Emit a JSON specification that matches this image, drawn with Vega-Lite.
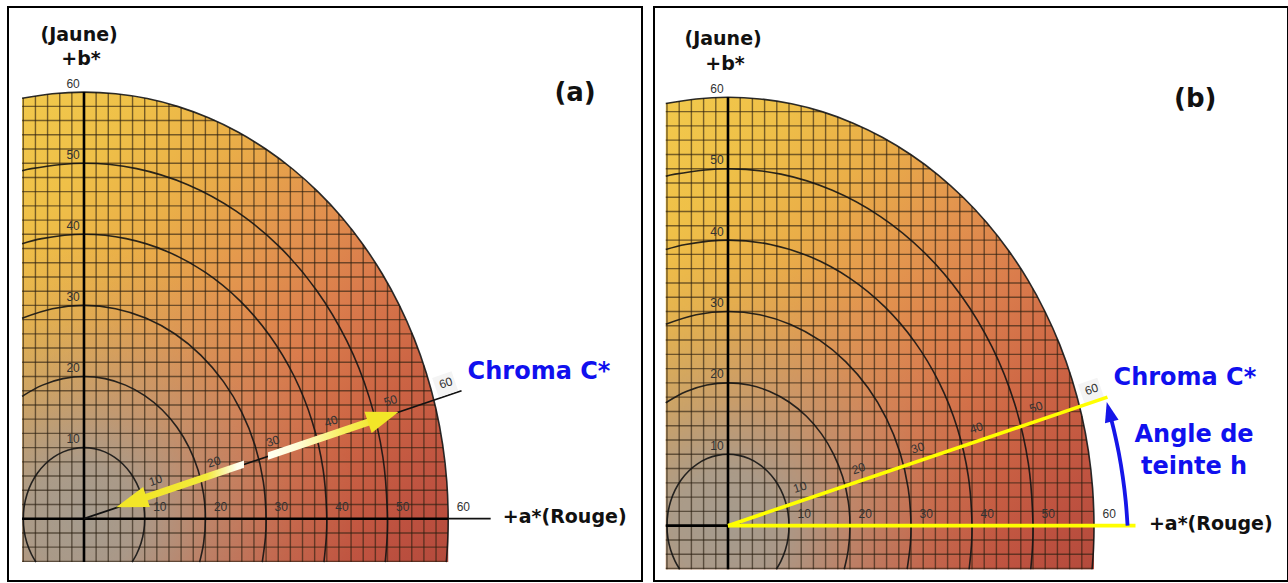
{
  "$schema": "https://vega.github.io/schema/vega-lite/v6.json",
  "background": "white",
  "padding": {"left": 7, "top": 6, "right": 0, "bottom": 0},
  "spacing": 10,
  "config": {"view": {"stroke": "#000000", "strokeWidth": 2}, "axis": {"disable": true}},
  "datasets": {
    "grid": [{"k":-10,"f":59.16},{"k":-8,"f":59.46},{"k":-6,"f":59.7},{"k":-4,"f":59.87},{"k":-2,"f":59.97},{"k":0,"f":60},{"k":2,"f":59.97},{"k":4,"f":59.87},{"k":6,"f":59.7},{"k":8,"f":59.46},{"k":10,"f":59.16},{"k":12,"f":58.79},{"k":14,"f":58.34},{"k":16,"f":57.83},{"k":18,"f":57.24},{"k":20,"f":56.57},{"k":22,"f":55.82},{"k":24,"f":54.99},{"k":26,"f":54.07},{"k":28,"f":53.07},{"k":30,"f":51.96},{"k":32,"f":50.75},{"k":34,"f":49.44},{"k":36,"f":48},{"k":38,"f":46.43},{"k":40,"f":44.72},{"k":42,"f":42.85},{"k":44,"f":40.79},{"k":46,"f":38.52},{"k":48,"f":36},{"k":50,"f":33.17},{"k":52,"f":29.93},{"k":54,"f":26.15},{"k":56,"f":21.54},{"k":58,"f":15.36}],
    "arcs": [
      {"r":10,"t":-37.6,"a":7.92,"b":-6.1},{"r":10,"t":-30,"a":8.66,"b":-5},{"r":10,"t":-20,"a":9.4,"b":-3.42},{"r":10,"t":-10,"a":9.85,"b":-1.74},{"r":10,"t":0,"a":10,"b":0},{"r":10,"t":10,"a":9.85,"b":1.74},{"r":10,"t":20,"a":9.4,"b":3.42},{"r":10,"t":30,"a":8.66,"b":5},{"r":10,"t":40,"a":7.66,"b":6.43},{"r":10,"t":50,"a":6.43,"b":7.66},{"r":10,"t":60,"a":5,"b":8.66},{"r":10,"t":70,"a":3.42,"b":9.4},{"r":10,"t":80,"a":1.74,"b":9.85},{"r":10,"t":90,"a":0,"b":10},{"r":10,"t":100,"a":-1.74,"b":9.85},{"r":10,"t":110,"a":-3.42,"b":9.4},{"r":10,"t":120,"a":-5,"b":8.66},{"r":10,"t":130,"a":-6.43,"b":7.66},{"r":10,"t":140,"a":-7.66,"b":6.43},{"r":10,"t":150,"a":-8.66,"b":5},{"r":10,"t":160,"a":-9.4,"b":3.42},{"r":10,"t":170,"a":-9.85,"b":1.74},{"r":10,"t":180,"a":-10,"b":0},{"r":10,"t":190,"a":-9.85,"b":-1.74},{"r":10,"t":200,"a":-9.4,"b":-3.42},{"r":10,"t":210,"a":-8.66,"b":-5},{"r":10,"t":217.6,"a":-7.92,"b":-6.1},
      {"r":20,"t":-17.8,"a":19.05,"b":-6.1},{"r":20,"t":-10,"a":19.7,"b":-3.47},{"r":20,"t":0,"a":20,"b":0},{"r":20,"t":10,"a":19.7,"b":3.47},{"r":20,"t":20,"a":18.79,"b":6.84},{"r":20,"t":30,"a":17.32,"b":10},{"r":20,"t":40,"a":15.32,"b":12.86},{"r":20,"t":50,"a":12.86,"b":15.32},{"r":20,"t":60,"a":10,"b":17.32},{"r":20,"t":70,"a":6.84,"b":18.79},{"r":20,"t":80,"a":3.47,"b":19.7},{"r":20,"t":90,"a":0,"b":20},{"r":20,"t":100,"a":-3.47,"b":19.7},{"r":20,"t":110,"a":-6.84,"b":18.79},{"r":20,"t":120,"a":-10,"b":17.32},{"r":20,"t":120.7,"a":-10.2,"b":17.2},
      {"r":30,"t":-11.7,"a":29.37,"b":-6.1},{"r":30,"t":-5,"a":29.89,"b":-2.61},{"r":30,"t":0,"a":30,"b":0},{"r":30,"t":10,"a":29.54,"b":5.21},{"r":30,"t":20,"a":28.19,"b":10.26},{"r":30,"t":30,"a":25.98,"b":15},{"r":30,"t":40,"a":22.98,"b":19.28},{"r":30,"t":50,"a":19.28,"b":22.98},{"r":30,"t":60,"a":15,"b":25.98},{"r":30,"t":70,"a":10.26,"b":28.19},{"r":30,"t":80,"a":5.21,"b":29.54},{"r":30,"t":90,"a":0,"b":30},{"r":30,"t":100,"a":-5.21,"b":29.54},{"r":30,"t":109.9,"a":-10.2,"b":28.21},
      {"r":40,"t":-8.8,"a":39.53,"b":-6.1},{"r":40,"t":-4,"a":39.9,"b":-2.79},{"r":40,"t":0,"a":40,"b":0},{"r":40,"t":10,"a":39.39,"b":6.95},{"r":40,"t":20,"a":37.59,"b":13.68},{"r":40,"t":30,"a":34.64,"b":20},{"r":40,"t":40,"a":30.64,"b":25.71},{"r":40,"t":50,"a":25.71,"b":30.64},{"r":40,"t":60,"a":20,"b":34.64},{"r":40,"t":70,"a":13.68,"b":37.59},{"r":40,"t":80,"a":6.95,"b":39.39},{"r":40,"t":90,"a":0,"b":40},{"r":40,"t":100,"a":-6.95,"b":39.39},{"r":40,"t":104.8,"a":-10.2,"b":38.68},
      {"r":50,"t":-7,"a":49.63,"b":-6.1},{"r":50,"t":-3.5,"a":49.91,"b":-3.05},{"r":50,"t":0,"a":50,"b":0},{"r":50,"t":10,"a":49.24,"b":8.68},{"r":50,"t":20,"a":46.98,"b":17.1},{"r":50,"t":30,"a":43.3,"b":25},{"r":50,"t":40,"a":38.3,"b":32.14},{"r":50,"t":50,"a":32.14,"b":38.3},{"r":50,"t":60,"a":25,"b":43.3},{"r":50,"t":70,"a":17.1,"b":46.98},{"r":50,"t":80,"a":8.68,"b":49.24},{"r":50,"t":90,"a":0,"b":50},{"r":50,"t":100,"a":-8.68,"b":49.24},{"r":50,"t":101.8,"a":-10.2,"b":48.95},
      {"r":60,"t":-5.8,"a":59.69,"b":-6.1},{"r":60,"t":-3,"a":59.92,"b":-3.14},{"r":60,"t":0,"a":60,"b":0},{"r":60,"t":5,"a":59.77,"b":5.23},{"r":60,"t":10,"a":59.09,"b":10.42},{"r":60,"t":15,"a":57.96,"b":15.53},{"r":60,"t":20,"a":56.38,"b":20.52},{"r":60,"t":25,"a":54.38,"b":25.36},{"r":60,"t":30,"a":51.96,"b":30},{"r":60,"t":35,"a":49.15,"b":34.42},{"r":60,"t":40,"a":45.96,"b":38.57},{"r":60,"t":45,"a":42.43,"b":42.43},{"r":60,"t":50,"a":38.57,"b":45.96},{"r":60,"t":55,"a":34.42,"b":49.15},{"r":60,"t":60,"a":30,"b":51.96},{"r":60,"t":65,"a":25.36,"b":54.38},{"r":60,"t":70,"a":20.52,"b":56.38},{"r":60,"t":75,"a":15.53,"b":57.96},{"r":60,"t":80,"a":10.42,"b":59.09},{"r":60,"t":85,"a":5.23,"b":59.77},{"r":60,"t":90,"a":0,"b":60},{"r":60,"t":95,"a":-5.23,"b":59.77},{"r":60,"t":99.8,"a":-10.2,"b":59.13}
    ],
    "segs": [
      {"id":"axA","a1":-10.2,"b1":0,"a2":60,"b2":0},
      {"id":"axA2","a1":60,"b1":0,"a2":67,"b2":0},
      {"id":"axB","a1":0,"b1":-6.1,"a2":0,"b2":60},
      {"id":"chroma","a1":0,"b1":0,"a2":62.2,"b2":18},
      {"id":"arrow","a1":7.8,"b1":2.32,"a2":49.3,"b2":14.28},
      {"id":"hue","a1":0,"b1":0,"a2":66.8,"b2":0}
    ],
    "heads": [
      {"id":"left","a":7.8,"b":2.32},
      {"id":"right","a":49.3,"b":14.28},
      {"id":"blue","a":62.5,"b":15.95},
      {"id":"box","a":59.5,"b":18.9}
    ],
    "hueArc": [
      {"i":0,"a":65.5,"b":0},{"i":1,"a":65.2,"b":3.42},{"i":2,"a":64.72,"b":6.8},{"i":3,"a":64.07,"b":10.15},{"i":4,"a":63.25,"b":13.44},{"i":5,"a":62.84,"b":14.85}
    ],
    "ticks": [
      {"kind":"ax","label":"10","a":12.5,"b":1.6},{"kind":"ax","label":"20","a":22.5,"b":1.6},{"kind":"ax","label":"30","a":32.5,"b":1.6},{"kind":"ax","label":"40","a":42.5,"b":1.6},{"kind":"ax","label":"50","a":52.5,"b":1.6},{"kind":"ax","label":"60","a":62.5,"b":1.6},
      {"kind":"bx","label":"10","a":-1.8,"b":11.2},{"kind":"bx","label":"20","a":-1.8,"b":21.2},{"kind":"bx","label":"30","a":-1.8,"b":31.2},{"kind":"bx","label":"40","a":-1.8,"b":41.2},{"kind":"bx","label":"50","a":-1.8,"b":51.2},{"kind":"bx","label":"60","a":-1.8,"b":61.2},
      {"kind":"c","label":"10","a":11.8,"b":5.4},{"kind":"c","label":"20","a":21.4,"b":8},{"kind":"c","label":"30","a":31.1,"b":10.9},{"kind":"c","label":"40","a":40.7,"b":13.7},{"kind":"c","label":"50","a":50.5,"b":16.6},{"kind":"c","label":"60","a":59.6,"b":19.1}
    ],
    "texts": [
      {"id":"jaune","text":"(Jaune)","a":-0.8,"b":68.1},
      {"id":"bstar","text":"+b*","a":-0.5,"b":64.6},
      {"id":"rouge","text":"+a*(Rouge)","a":69,"b":0.3},
      {"id":"chroma","text":"Chroma C*","a":63.2,"b":20.7},
      {"id":"pa","text":"(a)","a":80.9,"b":59.9},
      {"id":"pb","text":"(b)","a":76.6,"b":59.8},
      {"id":"angle1","text":"Angle de","a":76.4,"b":12.7},
      {"id":"angle2","text":"teinte h","a":76.4,"b":8.25}
    ]
  },
  "hconcat": [
    {
      "width": 634,
      "height": 574,
      "layer": [
        {
          "data": {"name": "arcs"},
          "transform": [{"filter": "datum.r == 60 && datum.t >= 0"}],
          "mark": {"type": "area", "fillOpacity": 1, "fill": {"gradient": "linear", "x1": 0, "y1": 0, "x2": 1, "y2": 1, "stops": [
            {"offset": 0, "color": "#F2C94C"}, {"offset": 0.15, "color": "#EFC048"}, {"offset": 0.3, "color": "#EAAE48"}, {"offset": 0.45, "color": "#E3954E"}, {"offset": 0.6, "color": "#DA7C4C"}, {"offset": 0.75, "color": "#CC6444"}, {"offset": 0.9, "color": "#BE5240"}, {"offset": 1, "color": "#B44A3C"}]}},
          "encoding": {
            "x": {"field": "a", "type": "quantitative", "scale": {"domain": [-12.52, 91.93], "nice": false, "zero": false}},
            "y": {"field": "b", "type": "quantitative", "scale": {"domain": [-8.76, 71.97], "nice": false, "zero": false}},
            "y2": {"datum": -6.1}
          }
        },
        {
          "data": {"name": "arcs"},
          "transform": [{"filter": "datum.r == 60 && datum.t >= 0"}],
          "mark": {"type": "area", "fillOpacity": 1, "fill": {"gradient": "radial", "x1": 0.178, "y1": 0.908, "r1": 0, "x2": 0.178, "y2": 0.908, "r2": 0.58, "stops": [
            {"offset": 0, "color": "rgba(163,156,144,0.96)"}, {"offset": 0.2, "color": "rgba(163,156,144,0.88)"}, {"offset": 0.45, "color": "rgba(163,156,144,0.45)"}, {"offset": 0.75, "color": "rgba(163,156,144,0.12)"}, {"offset": 1, "color": "rgba(163,156,144,0)"}]}},
          "encoding": {"x": {"field": "a", "type": "quantitative"}, "y": {"field": "b", "type": "quantitative"}, "y2": {"datum": -6.1}}
        },
        {
          "data": {"name": "grid"},
          "mark": {"type": "rule", "stroke": "#2a1f10", "strokeOpacity": 0.62, "strokeWidth": 1.4},
          "encoding": {"x": {"field": "k", "type": "quantitative"}, "y": {"field": "f", "type": "quantitative"}, "y2": {"datum": -6.1}}
        },
        {
          "data": {"name": "grid"},
          "transform": [{"filter": "datum.k >= -6"}],
          "mark": {"type": "rule", "stroke": "#2a1f10", "strokeOpacity": 0.62, "strokeWidth": 1.4},
          "encoding": {"y": {"field": "k", "type": "quantitative"}, "x": {"field": "f", "type": "quantitative"}, "x2": {"datum": -10.2}}
        },
        {
          "data": {"name": "arcs"},
          "mark": {"type": "line", "interpolate": "catmull-rom", "stroke": "#141414", "strokeWidth": 1.6, "strokeOpacity": 0.9},
          "encoding": {"x": {"field": "a", "type": "quantitative"}, "y": {"field": "b", "type": "quantitative"}, "detail": {"field": "r", "type": "nominal"}, "order": {"field": "t", "type": "quantitative"}}
        },
        {
          "data": {"name": "segs"},
          "transform": [{"filter": "datum.id == 'axA' || datum.id == 'axB'"}],
          "mark": {"type": "rule", "stroke": "#000000", "strokeWidth": 2.6},
          "encoding": {"x": {"field": "a1", "type": "quantitative"}, "y": {"field": "b1", "type": "quantitative"}, "x2": {"field": "a2"}, "y2": {"field": "b2"}}
        },
        {
          "data": {"name": "segs"},
          "transform": [{"filter": "datum.id == 'axA2' || datum.id == 'chroma'"}],
          "mark": {"type": "rule", "stroke": "#111111", "strokeWidth": 1.8},
          "encoding": {"x": {"field": "a1", "type": "quantitative"}, "y": {"field": "b1", "type": "quantitative"}, "x2": {"field": "a2"}, "y2": {"field": "b2"}}
        },
        {
          "data": {"name": "heads"},
          "transform": [{"filter": "datum.id == 'box'"}],
          "mark": {"type": "point", "shape": "square", "filled": true, "fill": "#F4F4F4", "fillOpacity": 1, "strokeWidth": 0, "size": 420, "angle": -19},
          "encoding": {"x": {"field": "a", "type": "quantitative"}, "y": {"field": "b", "type": "quantitative"}}
        },
        {
          "data": {"name": "segs"},
          "transform": [{"filter": "datum.id == 'arrow'"}],
          "mark": {"type": "rule", "strokeWidth": 7, "stroke": {"gradient": "linear", "x1": 0, "y1": 0, "x2": 1, "y2": 0, "stops": [
            {"offset": 0, "color": "#F0E424"}, {"offset": 0.3, "color": "#F3EA3C"}, {"offset": 0.42, "color": "#FFFFEE"}, {"offset": 0.448, "color": "#FFFFF2"}, {"offset": 0.448, "color": "rgba(0,0,0,0)"}, {"offset": 0.542, "color": "rgba(0,0,0,0)"}, {"offset": 0.542, "color": "#FFFFF2"}, {"offset": 0.66, "color": "#FFFCD6"}, {"offset": 0.85, "color": "#F7EE5A"}, {"offset": 1, "color": "#F0E424"}]}},
          "encoding": {"x": {"field": "a1", "type": "quantitative"}, "y": {"field": "b1", "type": "quantitative"}, "x2": {"field": "a2"}, "y2": {"field": "b2"}}
        },
        {
          "data": {"name": "heads"},
          "transform": [{"filter": "datum.id == 'left'"}],
          "mark": {"type": "point", "shape": "M -1 0 L 1 -0.66 L 1 0.66 Z", "filled": true, "fill": "#F2E628", "fillOpacity": 1, "strokeWidth": 0, "size": 1024, "angle": -18.7},
          "encoding": {"x": {"field": "a", "type": "quantitative"}, "y": {"field": "b", "type": "quantitative"}}
        },
        {
          "data": {"name": "heads"},
          "transform": [{"filter": "datum.id == 'right'"}],
          "mark": {"type": "point", "shape": "M 1 0 L -1 -0.7 L -1 0.7 Z", "filled": true, "fill": "#F2E628", "fillOpacity": 1, "strokeWidth": 0, "size": 1024, "angle": -18.7},
          "encoding": {"x": {"field": "a", "type": "quantitative"}, "y": {"field": "b", "type": "quantitative"}}
        },
        {
          "data": {"name": "ticks"},
          "transform": [{"filter": "datum.kind != 'c'"}],
          "mark": {"type": "text", "font": "Liberation Sans", "fontSize": 12, "fill": "#333333", "align": "center", "baseline": "middle"},
          "encoding": {"x": {"field": "a", "type": "quantitative"}, "y": {"field": "b", "type": "quantitative"}, "text": {"field": "label", "type": "nominal"}}
        },
        {
          "data": {"name": "ticks"},
          "transform": [{"filter": "datum.kind == 'c'"}],
          "mark": {"type": "text", "font": "Liberation Sans", "fontSize": 12, "fill": "#333333", "align": "center", "baseline": "middle", "angle": -18},
          "encoding": {"x": {"field": "a", "type": "quantitative"}, "y": {"field": "b", "type": "quantitative"}, "text": {"field": "label", "type": "nominal"}}
        },
        {
          "data": {"name": "texts"},
          "transform": [{"filter": "datum.id == 'jaune' || datum.id == 'bstar'"}],
          "mark": {"type": "text", "font": "DejaVu Sans", "fontWeight": "bold", "fontSize": 19, "fill": "#111111", "align": "center", "baseline": "middle"},
          "encoding": {"x": {"field": "a", "type": "quantitative"}, "y": {"field": "b", "type": "quantitative"}, "text": {"field": "text", "type": "nominal"}}
        },
        {
          "data": {"name": "texts"},
          "transform": [{"filter": "datum.id == 'rouge'"}],
          "mark": {"type": "text", "font": "DejaVu Sans", "fontWeight": "bold", "fontSize": 19, "fill": "#111111", "align": "left", "baseline": "middle"},
          "encoding": {"x": {"field": "a", "type": "quantitative"}, "y": {"field": "b", "type": "quantitative"}, "text": {"field": "text", "type": "nominal"}}
        },
        {
          "data": {"name": "texts"},
          "transform": [{"filter": "datum.id == 'chroma'"}],
          "mark": {"type": "text", "font": "DejaVu Sans", "fontWeight": "bold", "fontSize": 24, "fill": "#1010EE", "align": "left", "baseline": "middle"},
          "encoding": {"x": {"field": "a", "type": "quantitative"}, "y": {"field": "b", "type": "quantitative"}, "text": {"field": "text", "type": "nominal"}}
        },
        {
          "data": {"name": "texts"},
          "transform": [{"filter": "datum.id == 'pa'"}],
          "mark": {"type": "text", "font": "DejaVu Sans", "fontWeight": "bold", "fontSize": 26, "fill": "#111111", "align": "center", "baseline": "middle"},
          "encoding": {"x": {"field": "a", "type": "quantitative"}, "y": {"field": "b", "type": "quantitative"}, "text": {"field": "text", "type": "nominal"}}
        }
      ]
    },
    {
      "width": 634,
      "height": 574,
      "layer": [
        {
          "data": {"name": "arcs"},
          "transform": [{"filter": "datum.r == 60 && datum.t >= 0"}],
          "mark": {"type": "area", "fillOpacity": 1, "fill": {"gradient": "linear", "x1": 0, "y1": 0, "x2": 1, "y2": 1, "stops": [
            {"offset": 0, "color": "#F2C94C"}, {"offset": 0.15, "color": "#EFC048"}, {"offset": 0.3, "color": "#EAAE48"}, {"offset": 0.45, "color": "#E3954E"}, {"offset": 0.6, "color": "#DA7C4C"}, {"offset": 0.75, "color": "#CC6444"}, {"offset": 0.9, "color": "#BE5240"}, {"offset": 1, "color": "#B44A3C"}]}},
          "encoding": {
            "x": {"field": "a", "type": "quantitative", "scale": {"domain": [-12.13, 91.8], "nice": false, "zero": false}},
            "y": {"field": "b", "type": "quantitative", "scale": {"domain": [-7.75, 72.65], "nice": false, "zero": false}},
            "y2": {"datum": -6.1}
          }
        },
        {
          "data": {"name": "arcs"},
          "transform": [{"filter": "datum.r == 60 && datum.t >= 0"}],
          "mark": {"type": "area", "fillOpacity": 1, "fill": {"gradient": "radial", "x1": 0.178, "y1": 0.908, "r1": 0, "x2": 0.178, "y2": 0.908, "r2": 0.58, "stops": [
            {"offset": 0, "color": "rgba(163,156,144,0.96)"}, {"offset": 0.2, "color": "rgba(163,156,144,0.88)"}, {"offset": 0.45, "color": "rgba(163,156,144,0.45)"}, {"offset": 0.75, "color": "rgba(163,156,144,0.12)"}, {"offset": 1, "color": "rgba(163,156,144,0)"}]}},
          "encoding": {"x": {"field": "a", "type": "quantitative"}, "y": {"field": "b", "type": "quantitative"}, "y2": {"datum": -6.1}}
        },
        {
          "data": {"name": "grid"},
          "mark": {"type": "rule", "stroke": "#2a1f10", "strokeOpacity": 0.62, "strokeWidth": 1.4},
          "encoding": {"x": {"field": "k", "type": "quantitative"}, "y": {"field": "f", "type": "quantitative"}, "y2": {"datum": -6.1}}
        },
        {
          "data": {"name": "grid"},
          "transform": [{"filter": "datum.k >= -6"}],
          "mark": {"type": "rule", "stroke": "#2a1f10", "strokeOpacity": 0.62, "strokeWidth": 1.4},
          "encoding": {"y": {"field": "k", "type": "quantitative"}, "x": {"field": "f", "type": "quantitative"}, "x2": {"datum": -10.2}}
        },
        {
          "data": {"name": "arcs"},
          "mark": {"type": "line", "interpolate": "catmull-rom", "stroke": "#141414", "strokeWidth": 1.6, "strokeOpacity": 0.9},
          "encoding": {"x": {"field": "a", "type": "quantitative"}, "y": {"field": "b", "type": "quantitative"}, "detail": {"field": "r", "type": "nominal"}, "order": {"field": "t", "type": "quantitative"}}
        },
        {
          "data": {"name": "segs"},
          "transform": [{"filter": "datum.id == 'axA' || datum.id == 'axB'"}],
          "mark": {"type": "rule", "stroke": "#000000", "strokeWidth": 2.6},
          "encoding": {"x": {"field": "a1", "type": "quantitative"}, "y": {"field": "b1", "type": "quantitative"}, "x2": {"field": "a2"}, "y2": {"field": "b2"}}
        },
        {
          "data": {"name": "heads"},
          "transform": [{"filter": "datum.id == 'box'"}],
          "mark": {"type": "point", "shape": "square", "filled": true, "fill": "#F4F4F4", "fillOpacity": 1, "strokeWidth": 0, "size": 420, "angle": -19},
          "encoding": {"x": {"field": "a", "type": "quantitative"}, "y": {"field": "b", "type": "quantitative"}}
        },
        {
          "data": {"name": "segs"},
          "transform": [{"filter": "datum.id == 'hue' || datum.id == 'chroma'"}],
          "mark": {"type": "rule", "stroke": "#FFFF00", "strokeWidth": 3.6},
          "encoding": {"x": {"field": "a1", "type": "quantitative"}, "y": {"field": "b1", "type": "quantitative"}, "x2": {"field": "a2"}, "y2": {"field": "b2"}}
        },
        {
          "data": {"name": "hueArc"},
          "mark": {"type": "line", "interpolate": "catmull-rom", "stroke": "#1616E8", "strokeWidth": 3.8},
          "encoding": {"x": {"field": "a", "type": "quantitative"}, "y": {"field": "b", "type": "quantitative"}, "order": {"field": "i", "type": "quantitative"}}
        },
        {
          "data": {"name": "heads"},
          "transform": [{"filter": "datum.id == 'blue'"}],
          "mark": {"type": "point", "shape": "M 0 -1 L -0.7 1 L 0.7 1 Z", "filled": true, "fill": "#1616E8", "fillOpacity": 1, "strokeWidth": 0, "size": 400, "angle": -14.5},
          "encoding": {"x": {"field": "a", "type": "quantitative"}, "y": {"field": "b", "type": "quantitative"}}
        },
        {
          "data": {"name": "ticks"},
          "transform": [{"filter": "datum.kind != 'c'"}],
          "mark": {"type": "text", "font": "Liberation Sans", "fontSize": 12, "fill": "#333333", "align": "center", "baseline": "middle"},
          "encoding": {"x": {"field": "a", "type": "quantitative"}, "y": {"field": "b", "type": "quantitative"}, "text": {"field": "label", "type": "nominal"}}
        },
        {
          "data": {"name": "ticks"},
          "transform": [{"filter": "datum.kind == 'c'"}],
          "mark": {"type": "text", "font": "Liberation Sans", "fontSize": 12, "fill": "#333333", "align": "center", "baseline": "middle", "angle": -18},
          "encoding": {"x": {"field": "a", "type": "quantitative"}, "y": {"field": "b", "type": "quantitative"}, "text": {"field": "label", "type": "nominal"}}
        },
        {
          "data": {"name": "texts"},
          "transform": [{"filter": "datum.id == 'jaune' || datum.id == 'bstar'"}],
          "mark": {"type": "text", "font": "DejaVu Sans", "fontWeight": "bold", "fontSize": 19, "fill": "#111111", "align": "center", "baseline": "middle"},
          "encoding": {"x": {"field": "a", "type": "quantitative"}, "y": {"field": "b", "type": "quantitative"}, "text": {"field": "text", "type": "nominal"}}
        },
        {
          "data": {"name": "texts"},
          "transform": [{"filter": "datum.id == 'rouge'"}],
          "mark": {"type": "text", "font": "DejaVu Sans", "fontWeight": "bold", "fontSize": 19, "fill": "#111111", "align": "left", "baseline": "middle"},
          "encoding": {"x": {"field": "a", "type": "quantitative"}, "y": {"field": "b", "type": "quantitative"}, "text": {"field": "text", "type": "nominal"}}
        },
        {
          "data": {"name": "texts"},
          "transform": [{"filter": "datum.id == 'chroma'"}],
          "mark": {"type": "text", "font": "DejaVu Sans", "fontWeight": "bold", "fontSize": 24, "fill": "#1010EE", "align": "left", "baseline": "middle"},
          "encoding": {"x": {"field": "a", "type": "quantitative"}, "y": {"field": "b", "type": "quantitative"}, "text": {"field": "text", "type": "nominal"}}
        },
        {
          "data": {"name": "texts"},
          "transform": [{"filter": "datum.id == 'angle1' || datum.id == 'angle2'"}],
          "mark": {"type": "text", "font": "DejaVu Sans", "fontWeight": "bold", "fontSize": 24, "fill": "#1010EE", "align": "center", "baseline": "middle"},
          "encoding": {"x": {"field": "a", "type": "quantitative"}, "y": {"field": "b", "type": "quantitative"}, "text": {"field": "text", "type": "nominal"}}
        },
        {
          "data": {"name": "texts"},
          "transform": [{"filter": "datum.id == 'pb'"}],
          "mark": {"type": "text", "font": "DejaVu Sans", "fontWeight": "bold", "fontSize": 26, "fill": "#111111", "align": "center", "baseline": "middle"},
          "encoding": {"x": {"field": "a", "type": "quantitative"}, "y": {"field": "b", "type": "quantitative"}, "text": {"field": "text", "type": "nominal"}}
        }
      ]
    }
  ]
}
